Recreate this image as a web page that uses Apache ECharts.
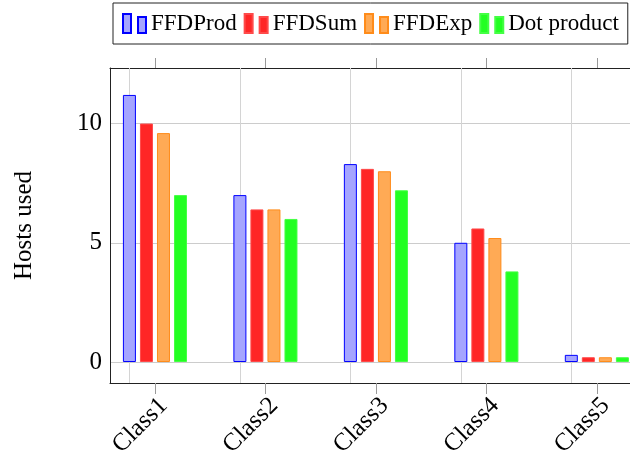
<!DOCTYPE html>
<html><head><meta charset="utf-8">
<script src="https://cdn.jsdelivr.net/npm/echarts@6/dist/echarts.min.js"></script>
<style>html,body{margin:0;padding:0;background:#fff}#c{width:630px;height:457px}</style>
</head><body><div id="c"></div>
<script>
const categories = ['Class1', 'Class2', 'Class3', 'Class4', 'Class5'];
const seriesNames = ['FFDProd', 'FFDSum', 'FFDExp', 'Dot product'];
const ffdProd = [11.2, 7.0, 8.3, 5.0, 0.3];
const ffdSum = [10.0, 6.4, 8.1, 5.6, 0.2];
const ffdExp = [9.6, 6.4, 8.0, 5.2, 0.2];
const dotProduct = [7.0, 6.0, 7.2, 3.8, 0.2];
const yTicks = [0, 5, 10];
const xTicks = [1, 2, 3, 4, 5];

const FONT = '"Liberation Serif", "DejaVu Serif", serif';
const fills = ['#a5a5ff', '#ff2626', '#ffaa55', '#22ff22'];
const borders = ['#0000ff', '#ff4a4a', '#ff8c1a', '#44ff44'];
const values = [ffdProd, ffdSum, ffdExp, dotProduct];

const chart = echarts.init(document.getElementById('c'), null, {renderer: 'canvas'});
const series = seriesNames.map((n, i) => ({
  name: n,
  type: 'bar',
  barWidth: 13,
  barGap: '31%',
  data: values[i].map((v, j) => [xTicks[j], v]),
  itemStyle: {color: fills[i], borderColor: borders[i], borderWidth: 1},
  emphasis: {disabled: true},
  z: 3
}));
series[0].markLine = {
  silent: true, symbol: 'none', label: {show: false},
  lineStyle: {color: '#d4d4d4', type: 'solid', width: 1},
  data: xTicks.map(v => ({xAxis: v})),
  z: 1
};

chart.setOption({
  animation: false,
  grid: {left: 110, right: 0, top: 68, bottom: 74, containLabel: false, outerBoundsMode: 'none'},
  legend: {
    left: 113, top: 3,
    padding: [9, 9, 9, 9],
    borderColor: '#222', borderWidth: 1,
    itemWidth: 23, itemHeight: 19, itemGap: 7,
    icon: 'path://M0,0h8v19h-8z M15,3h8v16h-8z',
    textStyle: {fontFamily: FONT, fontSize: 23, color: '#000'},
    data: seriesNames
  },
  xAxis: [{
    type: 'value', min: 0.593, max: 5.3, position: 'bottom',
    axisLine: {show: true, onZero: false, lineStyle: {color: '#222', width: 1}},
    axisTick: {show: true, customValues: xTicks, length: 11, inside: false, lineStyle: {color: '#999'}},
    axisLabel: {
      customValues: xTicks, rotate: 45, margin: 10,
      formatter: v => categories[Math.round(v) - 1] || '',
      fontFamily: FONT, fontSize: 25, color: '#000',
      align: 'right', verticalAlign: 'top'
    },
    splitLine: {show: false}
  }, {
    type: 'value', min: 0.593, max: 5.3, position: 'top',
    axisLine: {show: true, onZero: false, lineStyle: {color: '#222', width: 1}},
    axisTick: {show: true, customValues: xTicks, length: 10, inside: false, lineStyle: {color: '#999'}},
    axisLabel: {show: false},
    splitLine: {show: false}
  }],
  yAxis: {
    type: 'value', min: -0.88, max: 12.33,
    name: 'Hosts used', nameLocation: 'middle', nameGap: 73,
    nameTextStyle: {fontFamily: FONT, fontSize: 25, color: '#000'},
    axisLine: {show: true, onZero: false, lineStyle: {color: '#222', width: 1}},
    axisTick: {show: false, customValues: yTicks},
    axisLabel: {customValues: yTicks, fontFamily: FONT, fontSize: 25, color: '#000', margin: 8},
    splitLine: {show: true, customValues: yTicks, lineStyle: {color: '#cccccc', width: 1}}
  },
  series: series
});
</script></body></html>
